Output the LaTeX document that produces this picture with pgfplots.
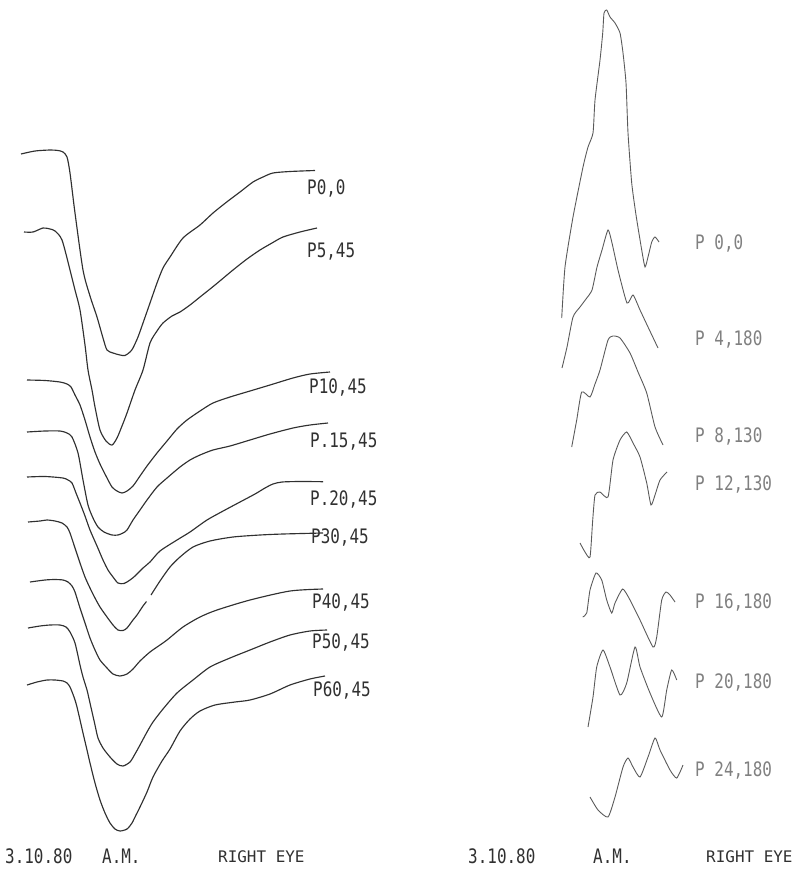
\documentclass[border=0pt]{standalone}
\usepackage{graphicx}
\usepackage{fontspec}
\usepackage{pgfplots}
\pgfplotsset{compat=1.18}
\newfontfamily\plotfont{DejaVu Sans Mono}
\definecolor{ink}{HTML}{303030}
\definecolor{inkR}{HTML}{5a5a5a}
\definecolor{txtR}{HTML}{808080}
\newcommand{\lab}[1]{\scalebox{1}[1.25]{\plotfont\fontsize{16}{16}\selectfont #1}}
\begin{document}
\begin{tikzpicture}
\begin{axis}[
  width=796bp, height=870bp, scale only axis,
  xmin=0, xmax=796, ymin=0, ymax=870, y dir=reverse,
  hide axis, clip=false,
  L/.style={ink, solid, line width=1.15pt, smooth, tension=0.45, no markers},
  R/.style={inkR, solid, line width=0.9pt, smooth, tension=0.35, no markers},
]
\path[draw=none] (axis cs:0,0) rectangle (axis cs:796,870);
% ---------------- left traces
\addplot[L] coordinates {(21,154)(35,151)(50,150)(58,150.5)(63,152)(67,157)(70,173)(75,213)(83,270)(90,296)(97,317)(103,338)(107,350)(113,353)(120,355)(125,355.5)(130,352)(133,348)(138,337)(143,323)(150,303)(157,283)(163,268)(170,257)(183,238)(200,225)(213,213)(228,201)(240,192)(253,182)(263,177)(273,173)(290,171.5)(315,170.5)};
\addplot[L] coordinates {(24,232)(33,232)(43,228)(50,229)(55,231)(62,240)(70,270)(75,290)(80,310)(85,345)(88,370)(92,390)(95,407)(100,430)(106,441)(112,445)(117,438)(122,426)(127,413)(135,390)(143,370)(150,343)(157,331)(163,323)(172,316)(180,312)(190,305)(200,297)(215,285)(233,270)(247,259)(260,250)(272,243)(283,237)(300,232)(317,228)};
\addplot[L] coordinates {(27,380)(45,380.5)(60,382)(67,384)(71,387)(75,395)(80,405)(85,420)(90,437)(95,452)(100,464)(106,476)(112,487)(117,491)(122,493)(127,491)(133,486)(140,476)(147,466)(157,453)(167,441)(177,429)(187,420)(200,411)(213,403)(230,397)(250,391)(270,385)(293,378)(310,374)(330,372)};
\addplot[L] coordinates {(27,432)(45,431)(60,431)(67,433)(72,437)(78,453)(83,480)(88,505)(93,518)(98,527)(104,532)(112,535)(118,535)(123,533)(127,530)(133,520)(140,510)(147,500)(157,487)(167,478)(180,467)(190,460)(200,455)(213,450)(230,446)(250,440)(270,434)(293,428)(310,425)(328,423)};
\addplot[L] coordinates {(27,477)(45,476.5)(63,478)(68,480)(72,483)(76,493)(80,503)(85,516)(90,530)(97,546)(103,560)(108,570)(113,577)(118,583)(124,583.5)(130,580)(135,576)(143,568)(150,562)(160,551)(177,540)(190,532)(207,520)(225,510)(240,502)(255,494)(265,488)(273,484)(282,482)(300,481.5)(323,481.7)};
\addplot[L] coordinates {(28,522)(40,521)(47,520)(55,521)(62,523)(67,527)(70,533)(75,548)(80,563)(85,577)(90,588)(95,598)(100,607)(107,617)(113,625)(118,630)(123,630.5)(127,628)(133,620)(137,615)(143,606)(146.5,601.5)};
\addplot[L] coordinates {(151,595)(160,581)(170,567)(180,557)(193,547)(210,541)(233,537)(260,535)(283,534)(323,533)};
\addplot[L] coordinates {(30,582)(45,580)(55,579.5)(63,580)(68,582)(72,586)(75,592)(80,608)(85,623)(90,638)(95,650)(100,660)(107,668)(113,674)(120,676)(127,674)(133,669)(140,661)(150,652)(160,645)(167,640)(183,627)(200,617)(217,610)(250,600)(290,591)(323,589)};
\addplot[L] coordinates {(28,628)(40,626)(50,625)(60,625)(66,627)(70,632)(75,643)(80,665)(83,677)(87,690)(90,703)(95,725)(98,738)(103,748)(110,757)(117,764)(123,766)(130,762)(135,754)(140,745)(147,732)(153,722)(163,709)(177,693)(193,680)(210,667)(230,658)(250,650)(270,642)(290,635)(310,631)(327,630)};
\addplot[L] coordinates {(27,685)(37,682)(47,680)(55,680)(63,681)(67,683)(70,687)(74,697)(77,707)(83,733)(87,750)(90,763)(95,783)(100,800)(105,813)(110,823)(115,829)(120,831)(127,829)(132,823)(136,815)(140,807)(147,792)(153,777)(162,761)(170,749)(180,731)(190,719)(200,711)(215,705)(235,702)(250,700)(270,694)(290,685)(310,679)(325,676)};
% ---------------- right traces
\addplot[R] coordinates {(561.7,318)(565,267)(573,217)(583,167)(588,147)(593,133)(595,100)(600,60)(602.7,33)(604,13)(606.7,10)(610,17)(615,23)(620,33)(623,53)(626,83)(628,133)(631.7,183)(636,215)(641.7,250)(645,267)(648,257)(651.7,242)(655,237)(659,242)};
\addplot[R] coordinates {(562,368)(567,347)(573,317)(580,307)(586,299)(592,290)(597,267)(602,250)(608,230)(612,243)(618,270)(627,303)(633,295)(640,310)(648,327)(658,348)};
\addplot[R] coordinates {(571.7,447)(576.7,420)(581.7,392)(590,397)(595,384)(600,370)(608,340)(613,336)(620,338)(630,353)(638,372)(646.7,393)(655,427)(663,445)};
\addplot[R] coordinates {(580,543)(585,552)(590,557)(592.7,520)(595,495)(600,492)(608,497)(613,460)(620,440)(626.7,432)(633,443)(640,457)(646.7,483)(651,505)(655,495)(660,480)(667,472)};
\addplot[R] coordinates {(582.7,617)(586.7,613)(590,590)(596,573)(601.7,580)(606.7,600)(611.7,613)(615,603)(622.7,589)(630,600)(640,620)(653,647)(656.7,637)(661.7,600)(666,592)(670,595)(675,602)};
\addplot[R] coordinates {(588,727)(593,697)(596.7,667)(603,650)(610,667)(620,695)(626.7,683)(635,647)(640,667)(650,693)(661.7,717)(666.7,690)(671.7,670)(676.7,680)};
\addplot[R] coordinates {(590,797)(598,810)(608,817)(615,797)(623,767)(628,758)(633,767)(640,777)(648,757)(655,738)(660,750)(670,770)(676.7,778)(683,765)};
% ---------------- labels
\begin{scope}[every node/.style={anchor=west, inner sep=0pt, text=ink}]
\node at (axis cs:307,188) {\lab{P0,0}};
\node at (axis cs:307,252) {\lab{P5,45}};
\node at (axis cs:309,387) {\lab{P10,45}};
\node at (axis cs:310,442) {\lab{P.15,45}};
\node at (axis cs:310,499) {\lab{P.20,45}};
\node at (axis cs:311,537) {\lab{P30,45}};
\node at (axis cs:312,602) {\lab{P40,45}};
\node at (axis cs:312,642) {\lab{P50,45}};
\node at (axis cs:313,690) {\lab{P60,45}};
\node at (axis cs:5,856) {\lab{3.10.80}};
\node at (axis cs:102,856) {\lab{A.M.}};
\node at (axis cs:218,857) {\plotfont\fontsize{16}{16}\selectfont RIGHT EYE};
\node at (axis cs:468,856) {\lab{3.10.80}};
\node at (axis cs:593,856) {\lab{A.M.}};
\node at (axis cs:706,857) {\plotfont\fontsize{16}{16}\selectfont RIGHT EYE};
\end{scope}
\begin{scope}[every node/.style={anchor=west, inner sep=0pt, text=txtR}]
\node at (axis cs:695,243) {\lab{P 0,0}};
\node at (axis cs:695,339) {\lab{P 4,180}};
\node at (axis cs:695,436) {\lab{P 8,130}};
\node at (axis cs:695,484) {\lab{P 12,130}};
\node at (axis cs:695,602) {\lab{P 16,180}};
\node at (axis cs:695,682) {\lab{P 20,180}};
\node at (axis cs:695,770) {\lab{P 24,180}};
\end{scope}
\end{axis}
\end{tikzpicture}
\end{document}
